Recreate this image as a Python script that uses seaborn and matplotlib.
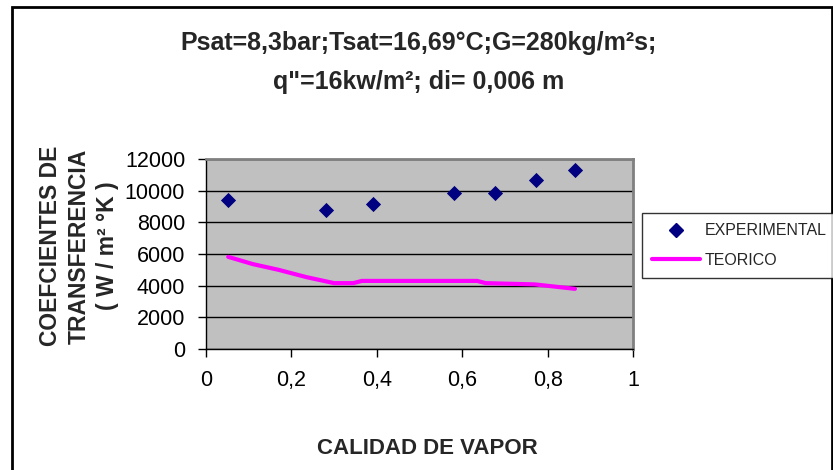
import matplotlib
matplotlib.use("Agg")
import matplotlib.pyplot as plt
import seaborn as sns
import pandas as pd
from matplotlib.lines import Line2D
from matplotlib.patches import Rectangle

# Experimental heat transfer coefficients vs vapour quality
x_exp = [0.052, 0.28, 0.39, 0.58, 0.676, 0.774, 0.864]
h_exp = [9390, 8780, 9160, 9870, 9870, 10690, 11280]

# Theoretical correlation curve
x_teo = [0.052, 0.11, 0.17, 0.235, 0.30, 0.345, 0.365, 0.635, 0.655, 0.77, 0.864]
h_teo = [5820, 5360, 5000, 4540, 4160, 4160, 4300, 4300, 4160, 4080, 3800]

x_ticks = [0, 0.2, 0.4, 0.6, 0.8, 1.0]
x_tick_labels = ["0", "0,2", "0,4", "0,6", "0,8", "1"]
y_ticks = [0, 2000, 4000, 6000, 8000, 10000, 12000]

title_lines = ["Psat=8,3bar;Tsat=16,69°C;G=280kg/m²s;", "q\"=16kw/m²; di= 0,006 m"]
x_label = "CALIDAD DE VAPOR"
y_label = "COEFCIENTES DE\nTRANSFERENCIA\n( W / m² °K )"
series_names = ["EXPERIMENTAL", "TEORICO"]

sns.set_style("ticks")
plt.rcParams["font.family"] = ["Liberation Sans", "DejaVu Sans"]

W, H = 833, 470
fig = plt.figure(figsize=(W / 100, H / 100), dpi=100)
ax = fig.add_axes([206 / W, 1 - 349 / H, (633 - 206) / W, (349 - 159) / H])
ax.set_facecolor("#C0C0C0")

df_exp = pd.DataFrame({"x": x_exp, "h": h_exp})
df_teo = pd.DataFrame({"x": x_teo, "h": h_teo})

sns.lineplot(data=df_teo, x="x", y="h", ax=ax, color="#FF00FF", linewidth=3,
             sort=False, estimator=None, zorder=3)
sns.scatterplot(data=df_exp, x="x", y="h", ax=ax, marker="D", s=60,
                color="#000080", edgecolor="#000080", linewidth=0, zorder=4)

ax.set_xlim(0, 1)
ax.set_ylim(0, 12000)
ax.set_xticks(x_ticks)
ax.set_xticklabels(x_tick_labels)
ax.set_yticks(y_ticks)
ax.set_xlabel("")
ax.set_ylabel("")
ax.grid(axis="y", color="black", linewidth=1)
ax.set_axisbelow(True)

for side in ("top", "right"):
    ax.spines[side].set_visible(True)
    ax.spines[side].set_color("#808080")
    ax.spines[side].set_linewidth(2)
for side in ("left", "bottom"):
    ax.spines[side].set_color("black")
    ax.spines[side].set_linewidth(1)

ax.tick_params(axis="both", direction="out", length=6, width=1, color="black",
               labelsize=15.5, labelcolor="black")
ax.tick_params(axis="x", pad=9)
ax.tick_params(axis="y", pad=9)

# Titles and axis labels
fig.text(0.503, 1 - 43 / H, title_lines[0], ha="center", va="center",
         fontsize=18, fontweight="bold")
fig.text(0.503, 1 - 82 / H, title_lines[1], ha="center", va="center",
         fontsize=18, fontweight="bold")
fig.text(427 / W, 1 - 448 / H, x_label, ha="center", va="center",
         fontsize=16, fontweight="bold")
fig.text(79 / W, 1 - 246 / H, y_label, ha="center", va="center",
         rotation=90, fontsize=16.5, fontweight="bold", linespacing=1.3,
         multialignment="center")

# Legend
handles = [
    Line2D([], [], linestyle="none", marker="D", markersize=7,
           markerfacecolor="#000080", markeredgecolor="#000080"),
    Line2D([], [], color="#FF00FF", linewidth=3),
]
leg = fig.legend(handles, series_names, loc="upper left",
                 bbox_to_anchor=(642 / W, 1 - 213 / H),
                 bbox_transform=fig.transFigure, frameon=True, fancybox=False,
                 edgecolor="black", facecolor="white", fontsize=11.5,
                 borderaxespad=0, handlelength=3.0, handletextpad=0.25,
                 labelspacing=0.9, borderpad=0.65)
leg.get_frame().set_linewidth(1)

# Outer chart-area border
fig.patches.append(Rectangle((12 / W, -0.1), (831.5 - 12) / W, 1.1 - 7 / H,
                             transform=fig.transFigure, fill=False,
                             edgecolor="black", linewidth=2, zorder=0))

fig.savefig("out.png", dpi=100)
